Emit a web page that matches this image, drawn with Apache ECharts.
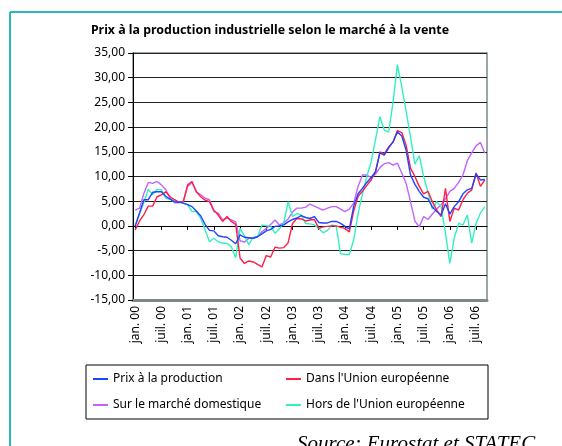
<!DOCTYPE html>
<html lang="fr">
<head>
<meta charset="UTF-8" />
<title>Prix à la production industrielle</title>
<script src="https://cdn.jsdelivr.net/npm/echarts@6/dist/echarts.min.js"></script>
<style>
  html, body { margin: 0; padding: 0; background: #fff; }
  #main { width: 562px; height: 446px; }
</style>
</head>
<body>
<div id="main"></div>
<script>
  // axe des mois : jan. 00 -> sept. 06
  var moisNoms = ["jan.", "févr.", "mars", "avr.", "mai", "juin", "juil.", "août", "sept.", "oct.", "nov.", "déc."];
  var annees = ["00", "01", "02", "03", "04", "05", "06"];
  var nbMois = 81;
  var mois = [];
  for (var i = 0; i < nbMois; i++) {
    mois.push(moisNoms[i % 12] + " " + annees[Math.floor(i / 12)]);
  }

  // valeurs (%)
  var prixProduction = [
    0.0, 2.6, 5.3, 5.3, 6.8, 6.9, 6.9, 6.0, 5.4, 4.9, 4.8, 4.6,
    4.3, 3.9, 3.0, 2.0, 0.3, -0.9, -1.0, -2.0, -2.2, -2.3, -2.9, -3.6,
    -1.8, -2.3, -2.4, -2.5, -2.2, -1.6, -1.0, -0.7, -0.1, 0.0, 0.2, 0.8,
    1.3, 1.6, 2.1, 1.7, 1.5, 1.9, 0.7, 0.6, 0.6, 0.9, 0.9, 0.5,
    -0.1, -0.6, 4.0, 6.5, 7.6, 8.8, 9.8, 11.0, 14.8, 14.3, 15.8, 17.0,
    19.0, 18.2, 15.3, 10.3, 8.4, 7.0, 5.8, 5.5, 3.8, 2.9, 2.2, 4.5,
    2.4, 3.9, 4.9, 6.5, 7.3, 7.6, 10.5, 9.3, 9.4
  ];
  var dansUE = [
    -0.8, 1.0, 2.3, 4.0, 4.0, 5.9, 6.3, 6.9, 5.9, 5.3, 4.8, 4.9,
    8.3, 9.0, 6.9, 5.9, 5.2, 4.9, 3.2, 2.2, 0.9, 1.9, 0.9, 0.3,
    -6.5, -7.6, -7.1, -7.3, -7.8, -8.3, -6.0, -6.3, -4.3, -4.5, -4.4, -3.4,
    0.5, 1.5, 1.4, 1.0, 1.2, 1.3, -0.5, -0.2, -0.1, 0.0, 0.0, -0.3,
    -0.5, -1.2, 3.0, 6.0, 7.0, 8.2, 9.3, 11.0, 15.0, 14.6, 16.0, 17.0,
    19.3, 18.9, 16.3, 11.7, 10.0, 8.0, 6.5, 7.0, 4.9, 3.2, 1.9, 7.6,
    0.9, 3.6, 3.2, 5.3, 6.6, 7.3, 10.7, 8.0, 9.3
  ];
  var domestique = [
    3.2, 3.6, 6.6, 8.8, 8.6, 9.0, 8.3, 7.3, 5.6, 4.7, 4.7, 4.9,
    8.0, 8.8, 6.9, 6.3, 5.6, 5.3, 2.9, 2.6, 1.2, 1.6, 1.2, 0.8,
    -3.0, -3.3, -2.5, -2.5, -2.2, -1.2, -0.5, 0.3, 1.2, 0.2, 0.6, 1.4,
    2.8, 3.6, 3.6, 3.8, 4.4, 4.0, 3.6, 3.2, 3.6, 3.9, 3.9, 3.4,
    2.9, 3.4, 4.6, 8.0, 10.3, 10.3, 9.8, 10.5, 11.8, 12.6, 12.8, 12.3,
    12.7, 10.7, 8.6, 4.9, 1.0, -0.2, 1.9, 1.3, 2.4, 3.4, 4.3, 5.5,
    7.0, 7.6, 8.8, 10.3, 13.2, 14.8, 16.2, 16.9, 14.7
  ];
  var horsUE = [
    0.0, 2.5, 4.8, 7.4, 6.3, 7.4, 7.3, 5.6, 5.4, 4.9, 4.9, 4.6,
    4.3, 2.9, 2.9, 1.5, -0.8, -3.2, -2.5, -3.2, -3.5, -3.5, -4.2, -6.5,
    -0.5, -2.0, -3.8, -2.3, -2.2, 0.2, 0.0, 0.0, -1.5, -0.6, 0.6, 4.9,
    1.9, 2.5, 2.2, 0.5, 0.4, 0.2, -0.5, -1.4, -0.9, 0.2, -0.1, -5.6,
    -5.8, -5.8, -2.8, 2.5, 6.5, 10.0, 13.0, 17.5, 22.1, 19.4, 19.0, 25.0,
    32.6, 28.2, 23.2, 18.0, 12.5, 14.2, 10.0, 6.8, 3.4, 4.9, 3.9, -1.5,
    -7.6, -2.5, 0.5, 0.2, 2.2, -3.5, 0.5, 2.6, 3.9
  ];

  var police = '"Noto Sans", "DejaVu Sans", sans-serif';

  var chart = echarts.init(document.getElementById("main"));

  function serie(nom, valeurs, couleur) {
    return {
      name: nom,
      type: "line",
      data: valeurs,
      symbol: "none",
      color: couleur,
      lineStyle: { width: 1.4, color: couleur }
    };
  }

  var option = {
    backgroundColor: "#fff",
    animation: false,
    title: {
      text: "Prix à la production industrielle selon le marché à la vente",
      left: 265,
      textAlign: "center",
      top: 19,
      textStyle: { fontFamily: police, fontSize: 12.4, fontWeight: "bold", color: "#000" }
    },
    grid: {
      left: 133, right: 75, top: 53, bottom: 146,
      show: true, borderColor: "#7c8a8a", borderWidth: 1.5, backgroundColor: "#fff"
    },
    legend: [
      {
        orient: "vertical", left: 93, top: 373, itemGap: 14, padding: 0,
        itemWidth: 15, itemHeight: 2, icon: "rect",
        data: ["Prix à la production", "Sur le marché domestique"],
        textStyle: { fontFamily: police, fontSize: 12, color: "#000" }
      },
      {
        orient: "vertical", left: 286, top: 373, itemGap: 14, padding: 0,
        itemWidth: 15, itemHeight: 2, icon: "rect",
        data: ["Dans l'Union européenne", "Hors de l'Union européenne"],
        textStyle: { fontFamily: police, fontSize: 12, color: "#000" }
      }
    ],
    xAxis: [
      {
        type: "category",
        data: mois,
        boundaryGap: true,
        position: "bottom",
        axisLine: { onZero: false, lineStyle: { color: "#7c8a8a", width: 3 } },
        axisTick: { show: false },
        axisLabel: {
          interval: 5, rotate: 90, margin: 6,
          fontFamily: police, fontSize: 12, color: "#000"
        },
        splitLine: { show: false }
      },
      {
        // ligne du zéro avec ses graduations
        type: "category",
        data: mois,
        boundaryGap: true,
        position: "bottom",
        axisLine: { onZero: true, onZeroAxisIndex: 0, lineStyle: { color: "#000", width: 1 } },
        axisTick: { show: true, alignWithLabel: true, interval: 5, length: 4, lineStyle: { color: "#000" } },
        axisLabel: { show: false },
        splitLine: { show: false }
      }
    ],
    yAxis: {
      type: "value",
      min: -15, max: 35, interval: 5,
      axisLine: { show: true, lineStyle: { color: "#000", width: 1 } },
      axisTick: { show: true, length: 5, lineStyle: { color: "#000" } },
      axisLabel: {
        margin: 8, fontFamily: police, fontSize: 12, color: "#000",
        formatter: function (v) { return v.toFixed(2).replace(".", ","); }
      },
      splitLine: { show: true, lineStyle: { color: "#222", width: 1 } }
    },
    series: [
      serie("Sur le marché domestique", domestique, "#c462ff"),
      serie("Hors de l'Union européenne", horsUE, "#33f0c0"),
      serie("Dans l'Union européenne", dansUE, "#ff1f45"),
      serie("Prix à la production", prixProduction, "#1f44ff")
    ],
    graphic: [
      { type: "line", shape: { x1: 10, y1: 12, x2: 562, y2: 12 }, style: { stroke: "#2fb6b6", lineWidth: 2 } },
      { type: "line", shape: { x1: 10, y1: 12, x2: 10, y2: 446 }, style: { stroke: "#2fb6b6", lineWidth: 2 } },
      { type: "rect", shape: { x: 86, y: 365, width: 402, height: 54 }, style: { fill: "none", stroke: "#000", lineWidth: 1 } },
      {
        type: "text", left: 297, top: 434,
        style: { text: "Source: Eurostat et STATEC", font: 'italic 21px "Liberation Serif", serif', fill: "#000" }
      }
    ]
  };

  chart.setOption(option);
</script>
</body>
</html>
